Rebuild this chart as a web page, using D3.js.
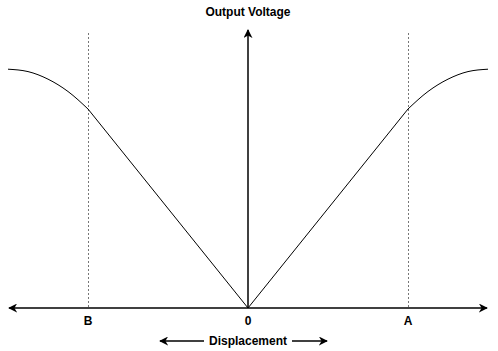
<!DOCTYPE html>
<html>
<head>
<meta charset="utf-8">
<script src="https://cdn.jsdelivr.net/npm/d3@7"></script>
<style>
  body { margin: 0; background: #fff; }
  text { font-family: "Liberation Sans", Arial, sans-serif; font-weight: bold; font-size: 12px; }
</style>
</head>
<body>
<svg id="viz"></svg>
<script>
var width = 498, height = 351;

// displacement positions and output voltage
var leftCurve = [[-3, 12], [-2.75, 11.88], [-2.5, 11.5], [-2.25, 10.88], [-2, 10]];
var linear = [[-2, 10], [0, 0], [2, 10]];
var rightCurve = [[2, 10], [2.25, 10.88], [2.5, 11.5], [2.75, 11.88], [3, 12]];
var markers = [{label: "B", x: -2}, {label: "0", x: 0}, {label: "A", x: 2}];
var guides = [-2, 2];

var x = d3.scaleLinear().domain([-3, 3]).range([8, 488]);
var y = d3.scaleLinear().domain([0, 10]).range([308, 109]);

var svg = d3.select("#viz").attr("width", width).attr("height", height);

var defs = svg.append("defs");
defs.append("marker")
    .attr("id", "arrow")
    .attr("viewBox", "0 0 10 10")
    .attr("refX", 9).attr("refY", 5)
    .attr("markerWidth", 6).attr("markerHeight", 6)
    .attr("markerUnits", "strokeWidth")
    .attr("orient", "auto-start-reverse")
    .append("path")
    .attr("d", "M0,0 L10,5 L0,10 L3,5 Z")
    .attr("fill", "black");

// dotted guides at A and B
svg.append("g").selectAll("line")
    .data(guides).enter()
    .append("line")
    .attr("x1", d => x(d) + 0.5).attr("x2", d => x(d) + 0.5)
    .attr("y1", 33).attr("y2", y(0))
    .attr("stroke", "#777")
    .attr("stroke-width", 1)
    .attr("stroke-dasharray", "2,2");

// horizontal axis with arrows on both ends
svg.append("line")
    .attr("x1", x(-3) + 1).attr("x2", x(3) - 1)
    .attr("y1", y(0)).attr("y2", y(0))
    .attr("stroke", "black").attr("stroke-width", 1.5)
    .attr("marker-start", "url(#arrow)")
    .attr("marker-end", "url(#arrow)");

// vertical axis
svg.append("line")
    .attr("x1", x(0)).attr("x2", x(0))
    .attr("y1", y(0)).attr("y2", 30)
    .attr("stroke", "black").attr("stroke-width", 1.5)
    .attr("marker-end", "url(#arrow)");

var smooth = d3.line().x(d => x(d[0])).y(d => y(d[1])).curve(d3.curveMonotoneX);
var straight = d3.line().x(d => x(d[0])).y(d => y(d[1]));

svg.append("path").datum(leftCurve).attr("d", smooth)
    .attr("fill", "none").attr("stroke", "black").attr("stroke-width", 1);
svg.append("path").datum(linear).attr("d", straight)
    .attr("fill", "none").attr("stroke", "black").attr("stroke-width", 1);
svg.append("path").datum(rightCurve).attr("d", smooth)
    .attr("fill", "none").attr("stroke", "black").attr("stroke-width", 1);

svg.append("g").selectAll("text")
    .data(markers).enter()
    .append("text")
    .attr("x", d => x(d.x))
    .attr("y", 325)
    .attr("text-anchor", "middle")
    .text(d => d.label);

svg.append("text")
    .attr("x", x(0)).attr("y", 16)
    .attr("text-anchor", "middle")
    .text("Output Voltage");

svg.append("text")
    .attr("x", x(0)).attr("y", 345)
    .attr("text-anchor", "middle")
    .text("Displacement");

// little arrows either side of the axis title
svg.append("line")
    .attr("x1", 204).attr("x2", 160)
    .attr("y1", 341).attr("y2", 341)
    .attr("stroke", "black").attr("stroke-width", 1.5)
    .attr("marker-end", "url(#arrow)");
svg.append("line")
    .attr("x1", 292).attr("x2", 327)
    .attr("y1", 341).attr("y2", 341)
    .attr("stroke", "black").attr("stroke-width", 1.5)
    .attr("marker-end", "url(#arrow)");
</script>
</body>
</html>
